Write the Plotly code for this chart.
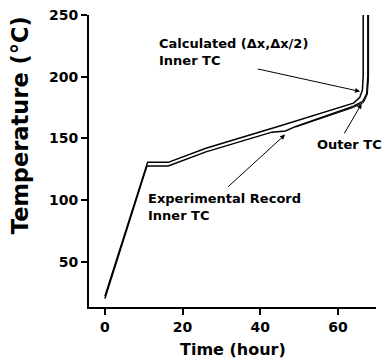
import plotly.graph_objects as go

# Calculated (Δx, Δx/2) inner TC
calc_t = [0, 11.0, 16.3, 26.0, 45.0, 64.0, 65.6, 66.3, 66.5, 66.5]
calc_T = [22, 130.5, 130.5, 142, 160, 178.5, 183, 189, 200, 250]
# Experimental record inner TC
exp_t = [0, 10.8, 16.3, 26.0, 43.0, 44.5, 46.5, 49.0, 64.0, 66.4, 67.4, 67.7, 67.7]
exp_T = [20, 127.5, 127.5, 139, 155, 155.5, 156, 159.5, 176, 180, 186, 200, 250]
# Outer TC (experimental)
out_t = [49.0, 64.0, 66.6, 67.6, 67.9, 67.9]
out_T = [159.0, 175, 179, 186, 200, 250]

xticks = [0, 20, 40, 60]
yticks = [50, 100, 150, 200, 250]

FAM = "DejaVu Sans, Liberation Sans, Arial, sans-serif"

fig = go.Figure()
line = dict(color="black", width=1.5)
fig.add_trace(go.Scatter(x=calc_t, y=calc_T, mode="lines", line=line, name="Calculated"))
fig.add_trace(go.Scatter(x=exp_t, y=exp_T, mode="lines", line=line, name="Experimental"))
fig.add_trace(go.Scatter(x=out_t, y=out_T, mode="lines", line=dict(color="black", width=1.0), name="Outer TC"))

ann_font = dict(family=FAM, color="black", size=13)

fig.add_annotation(x=65.7, y=188, ax=39, ay=206.5, axref="x", ayref="y",
                   showarrow=True, arrowhead=2, arrowsize=1, arrowwidth=1, arrowcolor="black", text="")
fig.add_annotation(x=46.4, y=153, ax=31.3, ay=109.5, axref="x", ayref="y",
                   showarrow=True, arrowhead=2, arrowsize=1, arrowwidth=1, arrowcolor="black", text="")
fig.add_annotation(x=66.1, y=178, ax=61.4, ay=152.7, axref="x", ayref="y",
                   showarrow=True, arrowhead=2, arrowsize=1, arrowwidth=1, arrowcolor="black", text="")

fig.add_annotation(x=13.4, y=220, xanchor="left", yanchor="middle", showarrow=False, align="left",
                   text="<b>Calculated (Δx,Δx/2)<br>Inner TC</b>", font=ann_font)
fig.add_annotation(x=10.7, y=94.5, xanchor="left", yanchor="middle", showarrow=False, align="left",
                   text="<b>Experimental Record<br>Inner TC</b>", font=ann_font)
fig.add_annotation(x=54.1, y=144.6, xanchor="left", yanchor="middle", showarrow=False, align="left",
                   text="<b>Outer TC</b>", font=ann_font)

# axis titles
fig.add_annotation(xref="paper", yref="paper", x=-0.240, y=0.623, xanchor="center", yanchor="middle",
                   textangle=-90, showarrow=False, text="<b>Temperature (°C)</b>",
                   font=dict(family=FAM, color="black", size=22.5))
fig.add_annotation(xref="paper", yref="paper", x=0.502, y=-0.147, xanchor="center", yanchor="middle",
                   showarrow=False, text="<b>Time (hour)</b>",
                   font=dict(family=FAM, color="black", size=16))

fig.update_layout(
    width=388, height=362,
    margin=dict(l=89, r=12, t=15, b=55, autoexpand=False),
    paper_bgcolor="white", plot_bgcolor="white",
    showlegend=False,
    font=dict(family=FAM, color="black"),
)
fig.update_xaxes(range=[-4.1, 69.8], tickvals=xticks, ticktext=[f"<b>{v}</b>" for v in xticks],
                 showgrid=False, zeroline=False, showline=True, linecolor="black", linewidth=1.8,
                 ticks="outside", ticklen=6, tickwidth=1.5, tickcolor="black", tickfont=dict(size=14),
                 automargin=False)
fig.update_yaxes(range=[13.2, 250], tickvals=yticks, ticktext=[f"<b>{v}</b>" for v in yticks],
                 showgrid=False, zeroline=False, showline=True, linecolor="black", linewidth=1.8,
                 ticks="outside", ticklen=6, tickwidth=1.5, tickcolor="black", tickfont=dict(size=14),
                 automargin=False)

fig.write_html("out.html", config={"displayModeBar": False},
               post_script="document.body.style.margin='0px';document.body.style.overflow='hidden';")
